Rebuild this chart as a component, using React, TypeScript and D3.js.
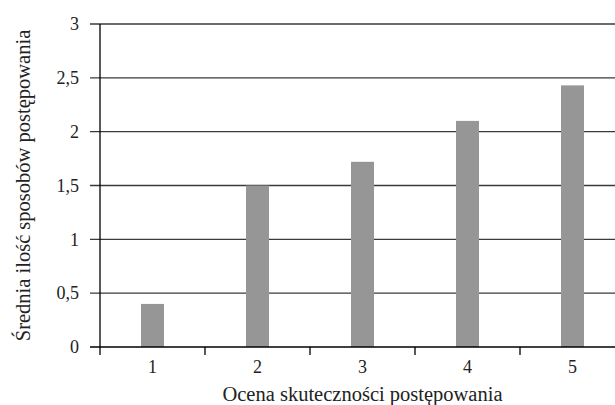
import React from "react";
import * as d3 from "d3";

const categories = ["1", "2", "3", "4", "5"];
const values = [0.4, 1.5, 1.72, 2.1, 2.43];
const yTicks = [0, 0.5, 1, 1.5, 2, 2.5, 3];
const xTitle = "Ocena skuteczności postępowania";
const yTitle = "Średnia ilość sposobów postępowania";

export default function App() {
  const W = 615, H = 405;
  const left = 100, right = 625, top = 24, bottom = 347;
  const x = d3.scaleBand<string>().domain(categories).range([left, right]).paddingInner(0).paddingOuter(0);
  const y = d3.scaleLinear().domain([0, 3]).range([bottom, top]);
  const barW = 23;
  const font = "'Liberation Serif', 'DejaVu Serif', serif";
  const fmt = (v: number) => String(v).replace(".", ",");
  const boundaries = d3.range(categories.length + 1).map((i) => left + i * x.bandwidth());
  return (
    <svg width={W} height={H} style={{ position: "absolute", left: 0, top: 0, background: "#fff" }} fontFamily={font}>
      {yTicks.filter((t) => t > 0).map((t) => (
        <line key={"g" + t} x1={90} x2={right} y1={y(t)} y2={y(t)} stroke="#3a3a3a" strokeWidth={t === 3 ? 1.6 : 1.3} />
      ))}
      {categories.map((c, i) => (
        <rect key={c} x={x(c)! + x.bandwidth() / 2 - barW / 2} y={y(values[i])} width={barW} height={y(0) - y(values[i])} fill="#969696" />
      ))}
      <line x1={left} x2={left} y1={top} y2={bottom} stroke="#000" strokeWidth={1.3} />
      <line x1={90} x2={right} y1={bottom} y2={bottom} stroke="#000" strokeWidth={1.3} />
      {boundaries.map((b, i) => (
        <line key={"t" + i} x1={b} x2={b} y1={bottom} y2={bottom + 8} stroke="#000" strokeWidth={1.3} />
      ))}
      {yTicks.map((t) => (
        <text key={"yl" + t} x={79} y={y(t)} dy="0.35em" textAnchor="end" fontSize={18} fill="#222">{fmt(t)}</text>
      ))}
      {categories.map((c) => (
        <text key={"xl" + c} x={x(c)! + x.bandwidth() / 2} y={373} textAnchor="middle" fontSize={18} fill="#222">{c}</text>
      ))}
      <text x={(left + right) / 2} y={401} textAnchor="middle" fontSize={20.5} fill="#222">{xTitle}</text>
      <text transform={`translate(30,${(top + bottom) / 2}) rotate(-90)`} textAnchor="middle" fontSize={20.5} fill="#222">{yTitle}</text>
    </svg>
  );
}
